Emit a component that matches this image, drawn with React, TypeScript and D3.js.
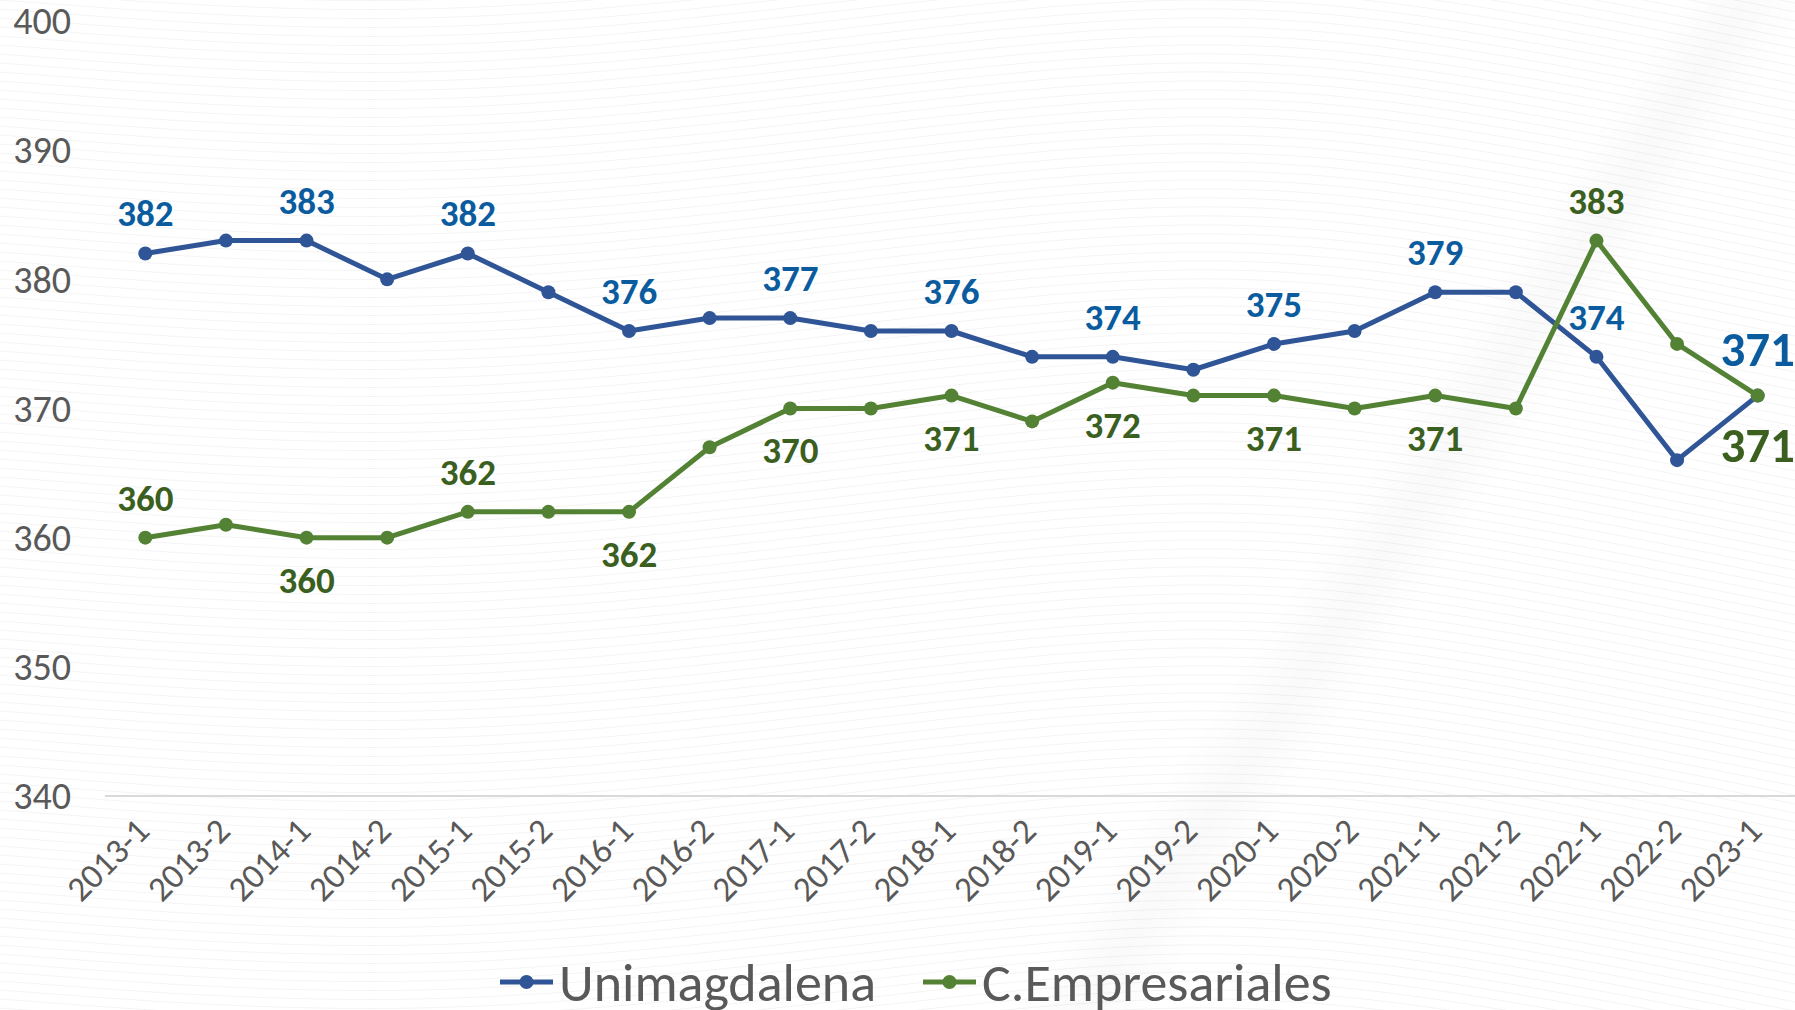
import React, { useRef, useEffect } from 'react';
import * as d3 from 'd3';

const categories = [
  '2013-1', '2013-2', '2014-1', '2014-2', '2015-1', '2015-2', '2016-1',
  '2016-2', '2017-1', '2017-2', '2018-1', '2018-2', '2019-1', '2019-2',
  '2020-1', '2020-2', '2021-1', '2021-2', '2022-1', '2022-2', '2023-1',
];
const unimagdalena = [382, 383, 383, 380, 382, 379, 376, 377, 377, 376, 376, 374, 374, 373, 375, 376, 379, 379, 374, 366, 371];
const empresariales = [360, 361, 360, 360, 362, 362, 362, 367, 370, 370, 371, 369, 372, 371, 371, 370, 371, 370, 383, 375, 371];
const yTicks = [340, 350, 360, 370, 380, 390, 400];

// which points get a value label, and on which side
const blueLabelIdx = [0, 2, 4, 6, 8, 10, 12, 14, 16, 18, 20];
const greenLabelIdx = [0, 2, 4, 6, 8, 10, 12, 14, 16, 18, 20];
const greenAboveIdx = [0, 4, 18];

const W = 1795;
const H = 1010;
const FONT = 'Calibri, Carlito, Lato, sans-serif';
const BLUE = '#2F5597';
const BLUE_TXT = '#0B5C9E';
const GREEN = '#548235';
const GREEN_TXT = '#3A5F1F';
const GRAY = '#595959';

const App: React.FC = () => {
  const ref = useRef<SVGSVGElement>(null);

  useEffect(() => {
    document.body.style.margin = '0';
    const svg = d3.select(ref.current!);
    svg.selectAll('*').remove();

    svg.append('rect').attr('width', W).attr('height', H).attr('fill', '#ffffff');

    // faint wavy background texture
    const defs = svg.append('defs');
    defs.append('filter').attr('id', 'blur')
      .append('feGaussianBlur').attr('stdDeviation', 18);
    const bg = svg.append('g').attr('opacity', 0.045);
    const wave = d3.line<[number, number]>().curve(d3.curveBasis);
    for (let i = -20; i < 130; i++) {
      const y0 = i * 9;
      const pts: [number, number][] = [
        [0, y0], [400, y0 + 30], [800, y0 - 10], [1200, y0 - 60], [1500, y0 - 20], [1800, y0 + 40],
      ];
      bg.append('path')
        .attr('d', wave(pts))
        .attr('fill', 'none')
        .attr('stroke', '#000')
        .attr('stroke-width', 1);
    }
    svg.append('line')
      .attr('x1', 1050).attr('y1', 1060)
      .attr('x2', 1760).attr('y2', -20)
      .attr('stroke', '#000')
      .attr('stroke-opacity', 0.018)
      .attr('stroke-width', 60)
      .attr('filter', 'url(#blur)');

    const x = d3.scalePoint<string>()
      .domain(categories)
      .range([105, 1798])
      .padding(0.5);

    const y = d3.scaleLinear()
      .domain([340, 400])
      .range([796, 21]);

    // baseline gridline
    svg.append('line')
      .attr('x1', 105).attr('x2', W)
      .attr('y1', y(340)).attr('y2', y(340))
      .attr('stroke', '#D9D9D9').attr('stroke-width', 2);

    // y axis labels
    svg.selectAll('.ytick')
      .data(yTicks)
      .enter().append('text')
      .attr('class', 'ytick')
      .attr('x', 71)
      .attr('y', d => y(d))
      .attr('dy', '0.35em')
      .attr('text-anchor', 'end')
      .attr('font-family', FONT)
      .attr('font-size', 38)
      .attr('fill', GRAY)
      .text(d => d);

    // x axis labels
    svg.selectAll('.xtick')
      .data(categories)
      .enter().append('text')
      .attr('class', 'xtick')
      .attr('transform', d => `translate(${x(d)! + 6},833) rotate(-45)`)
      .attr('text-anchor', 'end')
      .attr('font-family', FONT)
      .attr('font-size', 35)
      .attr('fill', GRAY)
      .text(d => d);

    const line = d3.line<number>()
      .x((_, i) => x(categories[i])!)
      .y(d => y(d));

    const series = [
      { values: unimagdalena, color: BLUE },
      { values: empresariales, color: GREEN },
    ];

    series.forEach(s => {
      svg.append('path')
        .datum(s.values)
        .attr('d', line)
        .attr('fill', 'none')
        .attr('stroke', s.color)
        .attr('stroke-width', 5)
        .attr('stroke-linejoin', 'round');

      svg.selectAll(null)
        .data(s.values)
        .enter().append('circle')
        .attr('cx', (_, i) => x(categories[i])!)
        .attr('cy', d => y(d))
        .attr('r', 7)
        .attr('fill', s.color);
    });

    // value labels
    const last = categories.length - 1;
    blueLabelIdx.forEach(i => {
      const big = i === last;
      svg.append('text')
        .attr('x', x(categories[i])!)
        .attr('y', y(unimagdalena[i]) - (big ? 47 : 40))
        .attr('dy', '0.35em')
        .attr('text-anchor', 'middle')
        .attr('font-family', FONT)
        .attr('font-weight', 'bold')
        .attr('font-size', big ? 49 : 37)
        .attr('fill', BLUE_TXT)
        .text(unimagdalena[i]);
    });

    greenLabelIdx.forEach(i => {
      const big = i === last;
      const above = greenAboveIdx.includes(i);
      const off = big ? 49 : 42;
      svg.append('text')
        .attr('x', x(categories[i])!)
        .attr('y', y(empresariales[i]) + (above ? -40 : off))
        .attr('dy', '0.35em')
        .attr('text-anchor', 'middle')
        .attr('font-family', FONT)
        .attr('font-weight', 'bold')
        .attr('font-size', big ? 49 : 37)
        .attr('fill', GREEN_TXT)
        .text(empresariales[i]);
    });

    // legend
    const legend = [
      { name: 'Unimagdalena', color: BLUE, x0: 500 },
      { name: 'C.Empresariales', color: GREEN, x0: 923 },
    ];
    legend.forEach(l => {
      const g = svg.append('g').attr('transform', `translate(${l.x0},982)`);
      g.append('line')
        .attr('x1', 0).attr('x2', 53)
        .attr('stroke', l.color).attr('stroke-width', 5);
      g.append('circle').attr('cx', 26.5).attr('r', 7).attr('fill', l.color);
      g.append('text')
        .attr('x', 59)
        .attr('y', 19)
        .attr('font-family', FONT)
        .attr('font-size', 54)
        .attr('fill', GRAY)
        .text(l.name);
    });
  }, []);

  return (
    <svg
      ref={ref}
      width={W}
      height={H}
      style={{ display: 'block', position: 'absolute', top: 0, left: 0 }}
    ></svg>
  );
};

export default App;
